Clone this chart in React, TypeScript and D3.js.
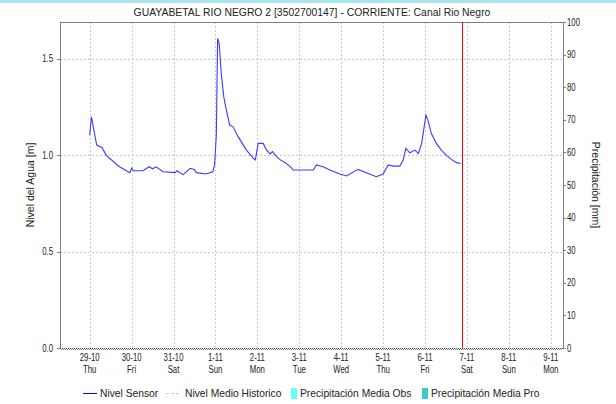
import React from "react";
import * as d3 from "d3";

const TITLE = "GUAYABETAL RIO NEGRO 2 [3502700147] - CORRIENTE: Canal Rio Negro";
const SENSOR_TIMES = [
  "2020-10-29 00:00","2020-10-29 01:00","2020-10-29 04:00","2020-10-29 07:00","2020-10-29 09:30",
  "2020-10-29 17:00","2020-10-29 21:00","2020-10-29 23:00","2020-10-30 00:00","2020-10-30 01:00",
  "2020-10-30 06:30","2020-10-30 10:00","2020-10-30 12:00","2020-10-30 14:00","2020-10-30 18:00",
  "2020-10-31 01:00","2020-10-31 02:00","2020-10-31 05:30","2020-10-31 09:30","2020-10-31 12:00",
  "2020-10-31 13:00","2020-10-31 18:30","2020-10-31 22:30","2020-10-31 23:30","2020-11-01 00:30",
  "2020-11-01 01:15","2020-11-01 02:10","2020-11-01 03:20","2020-11-01 04:50","2020-11-01 06:15",
  "2020-11-01 08:10","2020-11-01 10:05","2020-11-01 13:00","2020-11-01 17:45","2020-11-01 21:35",
  "2020-11-01 22:50","2020-11-02 00:30","2020-11-02 03:20","2020-11-02 05:15","2020-11-02 07:25",
  "2020-11-02 08:40","2020-11-02 11:00","2020-11-02 12:45","2020-11-02 16:35","2020-11-02 19:25",
  "2020-11-02 20:25","2020-11-03 08:00","2020-11-03 09:50","2020-11-03 13:40","2020-11-03 17:30",
  "2020-11-03 23:15","2020-11-04 03:05","2020-11-04 09:35","2020-11-04 14:25","2020-11-04 20:10",
  "2020-11-05 00:00","2020-11-05 02:55","2020-11-05 05:45","2020-11-05 09:35","2020-11-05 11:30",
  "2020-11-05 13:00","2020-11-05 15:20","2020-11-05 18:15","2020-11-05 20:10","2020-11-05 22:05",
  "2020-11-06 00:30","2020-11-06 01:40","2020-11-06 03:35","2020-11-06 06:30","2020-11-06 09:20",
  "2020-11-06 12:15","2020-11-06 15:05","2020-11-06 18:00","2020-11-06 20:25"
];
const SENSOR_VALUES = [
  1.105,1.2,1.053,1.041,1.0,
  0.941,0.92,0.91,0.933,0.92,
  0.92,0.941,0.93,0.94,0.915,
  0.91,0.92,0.9,0.933,0.927,
  0.91,0.903,0.915,0.95,1.105,
  1.607,1.58,1.425,1.3,1.235,
  1.157,1.148,1.097,1.027,0.985,
  0.976,1.062,1.062,1.027,1.007,
  1.019,0.993,0.979,0.958,0.936,
  0.924,0.924,0.95,0.941,0.924,
  0.903,0.893,0.927,0.91,0.889,
  0.903,0.95,0.944,0.944,0.976,
  1.036,1.013,1.027,1.01,1.062,
  1.209,1.183,1.114,1.062,1.027,
  1.0,0.979,0.962,0.958
];
const DOMAIN_START = "2020-10-28 07:00";
const DOMAIN_END = "2020-11-09 07:00";
const NOW_TIME = "2020-11-06 21:10";
const LEFT_TICKS = [0, 0.5, 1.0, 1.5];
const RIGHT_TICKS = [0, 10, 20, 30, 40, 50, 60, 70, 80, 90, 100];
const WEEKDAYS = ["Sun", "Mon", "Tue", "Wed", "Thu", "Fri", "Sat"];
const LEGEND_LABELS = ["Nivel Sensor", "Nivel Medio Historico", "Precipitación Media Obs", "Precipitación Media Pro"];

const parse = d3.timeParse("%Y-%m-%d %H:%M");

const W = 616, H = 404;
const L = 60, R = 563, T = 22, B = 348;
const FONT = "'Liberation Sans', Arial, sans-serif";

function ST(props: { x: number; y: number; sx?: number; size: number; anchor?: string; children: any; fill?: string }) {
  const { x, y, sx = 1, size, anchor = "start", children, fill = "#222" } = props;
  return (
    <text transform={`translate(${x},${y}) scale(${sx},1)`} fontSize={size} fontFamily={FONT} textAnchor={anchor} fill={fill}>
      {children}
    </text>
  );
}

export default function App() {
  const x = d3.scaleTime().domain([parse(DOMAIN_START)!, parse(DOMAIN_END)!]).range([L, R]);
  const yL = d3.scaleLinear().domain([0, 1.692]).range([B, T]);
  const yR = d3.scaleLinear().domain([0, 100]).range([B, T]);
  const data = SENSOR_TIMES.map((t, i) => ({ t: parse(t)!, v: SENSOR_VALUES[i] }));
  const line = d3.line<{ t: Date; v: number }>().x((d) => x(d.t)).y((d) => yL(d.v));
  const days = d3.timeDay.range(parse("2020-10-29 00:00")!, parse("2020-11-10 00:00")!);
  const nowX = x(parse(NOW_TIME)!);
  const sx = 0.78;

  return (
    <svg width={W} height={H} style={{ position: "absolute", left: 0, top: 0, background: "#fff" }}>
      <rect x={0} y={0} width={W} height={H} fill="#fff" />
      <rect x={0} y={0} width={W} height={3} fill="#a9e4ef" />
      <ST x={312} y={16} size={11} sx={0.945} anchor="middle">{TITLE}</ST>

      {/* grid */}
      {LEFT_TICKS.filter((v) => v > 0).map((v) => (
        <line key={"h" + v} x1={L} x2={R} y1={Math.round(yL(v)) + 0.5} y2={Math.round(yL(v)) + 0.5} stroke="#c8c8c8" strokeDasharray="2,2" />
      ))}
      {days.map((d, i) => (
        <line key={"v" + i} x1={Math.round(x(d)) + 0.5} x2={Math.round(x(d)) + 0.5} y1={T} y2={B} stroke="#c8c8c8" strokeDasharray="2,2" />
      ))}

      {/* frame */}
      <line x1={L} x2={R} y1={T + 0.5} y2={T + 0.5} stroke="#808080" />
      <line x1={L + 0.5} x2={L + 0.5} y1={T} y2={B} stroke="#808080" />
      <line x1={R + 0.5} x2={R + 0.5} y1={T} y2={B} stroke="#808080" />
      <line x1={L} x2={R} y1={B + 0.5} y2={B + 0.5} stroke="#444" strokeDasharray="1,1" />
      <line x1={L} x2={R} y1={B + 1.5} y2={B + 1.5} stroke="#777" strokeDasharray="1,1" strokeDashoffset={1} />

      {/* sensor line */}
      <path d={line(data) || ""} fill="none" stroke="#3b3bff" strokeWidth={1.1} />

      {/* now line */}
      <line x1={Math.round(nowX) + 0.5} x2={Math.round(nowX) + 0.5} y1={T} y2={B} stroke="#ff0000" />

      {/* left axis */}
      {LEFT_TICKS.map((v) => (
        <g key={"l" + v}>
          <line x1={L - 3} x2={L} y1={Math.round(yL(v)) + 0.5} y2={Math.round(yL(v)) + 0.5} stroke="#808080" />
          <ST x={53} y={yL(v) + 3.5} size={10} sx={sx} anchor="end">{d3.format(".1f")(v)}</ST>
        </g>
      ))}
      {/* right axis */}
      {RIGHT_TICKS.map((v) => (
        <g key={"r" + v}>
          <line x1={R} x2={R + 3} y1={Math.round(yR(v)) + 0.5} y2={Math.round(yR(v)) + 0.5} stroke="#808080" />
          <ST x={567} y={yR(v) + 3.5} size={10} sx={sx}>{String(v)}</ST>
        </g>
      ))}
      {/* x labels */}
      {days.map((d, i) => (
        <g key={"x" + i}>
          <ST x={x(d)} y={361} size={10} sx={sx} anchor="middle">{`${d.getDate()}-${d.getMonth() + 1}`}</ST>
          <ST x={x(d)} y={372.5} size={10} sx={sx} anchor="middle">{WEEKDAYS[d.getDay()]}</ST>
        </g>
      ))}

      {/* axis titles */}
      <text transform={`translate(34,${(T + B) / 2}) rotate(-90)`} fontSize={10.5} fontFamily={FONT} textAnchor="middle" fill="#222">Nivel del Agua [m]</text>
      <text transform={`translate(592,${(T + B) / 2}) rotate(90)`} fontSize={10.5} fontFamily={FONT} textAnchor="middle" fill="#222">Precipitación [mm]</text>

      {/* legend */}
      <line x1={83} x2={97} y1={393.5} y2={393.5} stroke="#0000ff" />
      <ST x={100} y={397} size={10.5} sx={0.98}>{LEGEND_LABELS[0]}</ST>
      <line x1={166} x2={180} y1={393.5} y2={393.5} stroke="#c8c8c8" strokeDasharray="3,2" />
      <ST x={185} y={397} size={10.5} sx={0.98}>{LEGEND_LABELS[1]}</ST>
      <rect x={291} y={388} width={6} height={11} fill="#66ffff" />
      <ST x={300} y={397} size={10.5} sx={0.98}>{LEGEND_LABELS[2]}</ST>
      <rect x={422} y={388} width={6} height={11} fill="#3fcaca" />
      <ST x={431} y={397} size={10.5} sx={0.98}>{LEGEND_LABELS[3]}</ST>
    </svg>
  );
}
